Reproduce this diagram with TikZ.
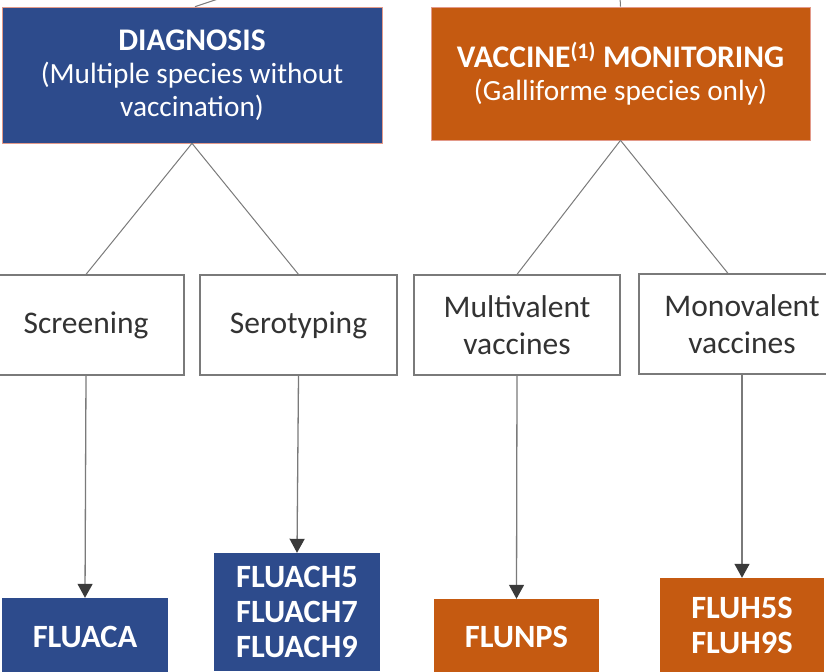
\documentclass[tikz,border=0pt]{standalone}
\usepackage{fontspec}
\setmainfont{Carlito}
\usetikzlibrary{arrows.meta}
\definecolor{dblue}{HTML}{2D4B8C}
\definecolor{dorange}{HTML}{C55A11}
\definecolor{edgepink}{HTML}{E39A8A}
\definecolor{lgray}{HTML}{7A7A7A}
\definecolor{agray}{HTML}{3A3A3A}
\newcommand{\headbig}{\fontsize{31.5}{33}\selectfont}
\tikzset{
  headbox/.style={rectangle, draw=edgepink, line width=0.7pt, text=white, align=center, inner sep=0pt,
    font=\fontsize{29.3}{33}\selectfont},
  midbox/.style={rectangle, draw=lgray, line width=1.2pt, fill=white, text=black!80, align=center, inner sep=0pt,
    font=\fontsize{31.5}{37}\selectfont, minimum height=100pt},
  codebox/.style={rectangle, text=white, align=center, inner sep=0pt,
    font=\bfseries\fontsize{32.5}{35}\selectfont},
  link/.style={draw=lgray, line width=1pt},
  arr/.style={draw=lgray, line width=1.3pt, -{Triangle[length=14pt,width=15pt,fill=agray,color=agray]}}
}
\begin{document}
\begin{tikzpicture}[x=1pt,y=-1pt]
\useasboundingbox (0,0) rectangle (826,671);
\clip (0,0) rectangle (826,671);
% top boxes
\node[headbox, fill=dblue, minimum width=380pt, minimum height=136pt] (diag) at (192,75)
  {{\headbig\textbf{DIAGNOSIS}}\\(Multiple species without\\vaccination)};
\node[headbox, fill=dorange, minimum width=379pt, minimum height=133pt] (vacc) at (620.5,73.5)
  {{\headbig\textbf{VACCINE\textsuperscript{(1)} MONITORING}}\\(Galliforme species only)};
% free ends above
\coordinate (t1) at (224,-3);
\coordinate (t2) at (620,-3);
\draw[link] ([xshift=3pt]diag.north) -- (t1);
\draw[link] (vacc.north) -- (t2);
% middle boxes
\node[midbox, minimum width=196pt] (scr) at (86,325) {Screening};
\node[midbox, minimum width=197pt] (ser) at (298.5,325) {Serotyping};
\node[midbox, minimum width=206pt] (mul) at (517,325) {Multivalent\\vaccines};
\node[midbox, minimum width=206pt] (mon) at (742,324) {Monovalent\\vaccines};
% diagonals
\draw[link] (diag.south) -- (scr.north);
\draw[link] (diag.south) -- (ser.north);
\draw[link] (vacc.south) -- (mul.north);
\draw[link] (vacc.south) -- ([xshift=-14pt]mon.north);
% bottom boxes
\node[codebox, fill=dblue, minimum width=166pt, minimum height=78pt] (fa) at (85,637) {FLUACA};
\node[codebox, fill=dblue, minimum width=166pt, minimum height=118pt] (fh) at (297,612) {FLUACH5\\FLUACH7\\FLUACH9};
\node[codebox, fill=dorange, minimum width=165pt, minimum height=76pt] (fn) at (516.5,637) {FLUNPS};
\node[codebox, fill=dorange, minimum width=164pt, minimum height=95pt] (fs) at (742,625.5) {FLUH5S\\FLUH9S};
% arrows
\draw[arr] (scr.south) -- (fa.north);
\draw[arr] (ser.south) -- (fh.north);
\draw[arr] (mul.south) -- (fn.north);
\draw[arr] (mon.south) -- (fs.north);
\end{tikzpicture}
\end{document}
